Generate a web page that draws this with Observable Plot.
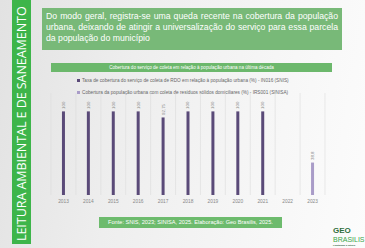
<!DOCTYPE html>
<html><head><meta charset="utf-8">
<script src="https://cdn.jsdelivr.net/npm/d3@7"></script>
<script src="https://cdn.jsdelivr.net/npm/@observablehq/plot@0.6"></script>
<style>
html,body{margin:0;padding:0;}
body{width:365px;height:248px;overflow:hidden;position:relative;font-family:"Liberation Sans",Arial,sans-serif;
background:linear-gradient(100deg,#e2e2e2 0%,#eeeeee 35%,#f6f6f6 70%,#fcfcfc 100%);}
.abs{position:absolute;}
#band{left:12px;top:0;width:19px;height:244px;background:#3db54a;overflow:hidden;}
#bandText{position:absolute;left:0;top:0;width:19px;height:244px;writing-mode:vertical-rl;transform:rotate(180deg);
color:#fff;font-size:12.6px;line-height:19px;padding-top:3px;box-sizing:border-box;white-space:nowrap;font-family:"Open Sans",sans-serif;letter-spacing:-0.1px;}
#box{left:42px;top:8px;width:300px;height:42px;background:#78b978;color:#fff;font-size:8.7px;line-height:11px;
padding:2.5px 4px 0 4px;box-sizing:border-box;text-align:justify;}
#ctitle{left:51px;top:63px;width:281px;height:9px;background:#6cb86c;color:#fff;font-size:4.6px;line-height:9px;text-align:center;}
.leg{left:77px;font-size:4.7px;color:#666;white-space:nowrap;line-height:6px;}
.leg span.m{display:inline-block;width:3px;height:3px;margin-right:2px;vertical-align:0px;}
#src{left:99px;top:217px;width:183px;height:11px;background:#6dbb6d;color:#fff;font-size:5.6px;line-height:11px;text-align:center;}
.logo{left:333px;white-space:nowrap;font-family:"Liberation Sans",sans-serif;}
#chart{left:0;top:90px;}
</style></head><body>
<div id="band" class="abs"><div id="bandText">LEITURA AMBIENTAL E DE SANEAMENTO</div></div>
<div id="box" class="abs">Do modo geral, registra-se uma queda recente na cobertura da população urbana, deixando de atingir a universalização do serviço para essa parcela da população do município</div>
<div id="ctitle" class="abs">Cobertura do serviço de coleta em relação à população urbana na última década</div>
<div id="leg1" class="abs leg" style="top:78px"></div>
<div id="leg2" class="abs leg" style="top:90px"></div>
<div id="chart" class="abs"></div>
<div id="src" class="abs">Fonte: SNIS, 2023; SINISA, 2025. Elaboração: Geo Brasilis, 2025.</div>
<div class="abs logo" style="top:226px;font-size:8px;line-height:9px;font-weight:bold;color:#2f6e3b;">GEO</div>
<div class="abs logo" style="top:235.5px;font-size:7px;line-height:8px;color:#3aa54a;">BRASILIS</div>
<div class="abs logo" style="top:244px;font-size:2.5px;line-height:3px;color:#2f5e3b;font-weight:bold;">Plantando o futuro</div>
<script>
const years = [2013,2014,2015,2016,2017,2018,2019,2020,2021,2022,2023];
const snis = [100,100,100,100,92.75,100,100,100,100,null,null];
const sinisa = [null,null,null,null,null,null,null,null,null,null,38.8];
const seriesNames = [
  "Taxa de cobertura do serviço de coleta de RDO em relação à população urbana (%) - IN016 (SNIS)",
  "Cobertura da população urbana com coleta de resíduos sólidos domiciliares (%) - IRS001 (SINISA)"
];
const seriesColors = ["#5a4a78","#a99cc8"];

const rows = [];
years.forEach((y,i)=>{
  if (snis[i]!=null) rows.push({year:y, value:snis[i], s:0});
  if (sinisa[i]!=null) rows.push({year:y, value:sinisa[i], s:1});
});
const seps = years.map(y=>y-0.5).concat([years[years.length-1]+0.5]);
const fmt = v => String(v).replace(".", ",");

const chart = Plot.plot({
  width:365, height:118,
  marginLeft:50.5, marginRight:40.5, marginTop:3, marginBottom:13,
  style:{background:"transparent", fontFamily:"Liberation Sans, sans-serif", overflow:"visible"},
  x:{type:"linear", domain:[2012.5,2023.5], axis:null, label:null},
  y:{domain:[0,122], axis:null, label:null},
  marks:[
    Plot.ruleX(seps, {x:d=>d, stroke:"#dcdcdc", strokeWidth:0.6}),
    Plot.ruleX(rows, {x:"year", y1:0, y2:"value", stroke:d=>seriesColors[d.s], strokeWidth:3}),
    Plot.text(rows, {x:"year", y:"value", text:d=>fmt(d.value), rotate:-90, textAnchor:"start", dy:-3, fontSize:4.4, fill:"#888"}),
    Plot.axisX({ticks:years, tickFormat:d=>String(d), tickSize:0, tickPadding:4, fontSize:4.8, fill:"#888", color:"#888", label:null})
  ]
});
document.getElementById("chart").appendChild(chart);

["leg1","leg2"].forEach((id,i)=>{
  const el = document.getElementById(id);
  el.innerHTML = '<span class="m" style="background:'+seriesColors[i]+'"></span>'+seriesNames[i];
});
</script>
</body></html>
